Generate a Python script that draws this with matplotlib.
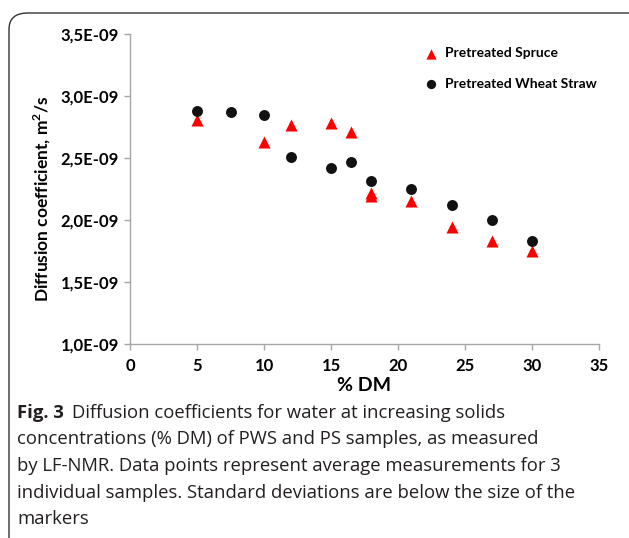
import matplotlib.pyplot as plt
from matplotlib.patches import FancyBboxPatch
from matplotlib.ticker import FuncFormatter

# === Data ===
dm_spruce = [5, 10, 12, 15, 16.5, 18, 18, 21, 24, 27, 30]
d_spruce = [2.81, 2.63, 2.77, 2.78, 2.71, 2.22, 2.19, 2.15, 1.94, 1.83, 1.75]

dm_straw = [5, 7.5, 10, 12, 15, 16.5, 18, 21, 24, 27, 30]
d_straw = [2.88, 2.87, 2.845, 2.505, 2.42, 2.47, 2.315, 2.25, 2.12, 2.0, 1.83]

y_ticks = [1.0, 1.5, 2.0, 2.5, 3.0, 3.5]
x_ticks = [0, 5, 10, 15, 20, 25, 30, 35]

caption_lines = [
    "concentrations (% DM) of PWS and PS samples, as measured",
    "by LF-NMR. Data points represent average measurements for 3",
    "individual samples. Standard deviations are below the size of the",
    "markers",
]

plt.rcParams['font.family'] = ['Lato', 'DejaVu Sans']
plt.rcParams['mathtext.fontset'] = 'custom'
plt.rcParams['mathtext.bf'] = 'Lato:bold'
cap_family = ['Open Sans', 'DejaVu Sans']

fig = plt.figure(figsize=(6.29, 5.38), dpi=100)

# rounded frame around the chart (right and bottom edges run off the image)
frame = FancyBboxPatch((9 / 629, -0.05), 1.1, 1 - 13 / 538 + 0.05,
                       boxstyle="round,pad=0,rounding_size=0.03",
                       transform=fig.transFigure, fill=False,
                       edgecolor='#333333', linewidth=1.0)
fig.patches.append(frame)

ax = fig.add_axes([130 / 629, 1 - 344 / 538, (599 - 130) / 629, (344 - 34) / 538])

ax.scatter(dm_spruce, [v * 1e-9 for v in d_spruce], marker='^', s=75,
           color='#ff0000', label='Pretreated Spruce', zorder=3, linewidths=0)
ax.scatter(dm_straw, [v * 1e-9 for v in d_straw], marker='o', s=62,
           color='#111111', label='Pretreated Wheat Straw', zorder=3, linewidths=0)

ax.set_xlim(0, 35)
ax.set_ylim(1.0e-9, 3.5e-9)
ax.set_xticks(x_ticks)
ax.set_yticks([v * 1e-9 for v in y_ticks])
ax.yaxis.set_major_formatter(FuncFormatter(
    lambda v, p: f"{v * 1e9:.1f}E-09".replace('.', ',')))

for side in ['top', 'right']:
    ax.spines[side].set_visible(False)
for side in ['left', 'bottom']:
    ax.spines[side].set_color('#a6a6a6')
    ax.spines[side].set_linewidth(1.0)
ax.tick_params(axis='both', color='#a6a6a6', length=4, width=1.0,
               labelsize=12, pad=4)
ax.tick_params(axis='x', pad=6)
for lab in ax.get_xticklabels() + ax.get_yticklabels():
    lab.set_fontweight('bold')

ax.set_xlabel('% DM', fontsize=14, fontweight='bold', labelpad=2)
ax.set_ylabel('Diffusion coefficient, m$^\\mathbf{2}$/s', fontsize=12.5,
              fontweight='bold')
ax.yaxis.set_label_coords(-0.165, 0.468)

ax.legend(loc='upper left', bbox_to_anchor=(0.6, 0.975), frameon=False,
          prop={'weight': 'bold', 'size': 10}, handletextpad=0.0,
          labelspacing=1.35, borderaxespad=0, scatterpoints=1,
          markerscale=0.85)

# caption
cap_size = 13.3
x0 = 17 / 629
y_first = 1 - 418 / 538
step = 26.5 / 538
t = fig.text(x0, y_first, "Fig. 3", fontsize=cap_size, fontweight='bold',
             family=cap_family, color='#231f20', va='baseline')
fig.canvas.draw()
bb = t.get_window_extent().transformed(fig.transFigure.inverted())
fig.text(bb.x1 + 8 / 629, y_first, "Diffusion coefficients for water at increasing solids",
         fontsize=cap_size, family=cap_family, color='#231f20', va='baseline')
for i, line in enumerate(caption_lines):
    fig.text(x0, y_first - (i + 1) * step, line, fontsize=cap_size,
             family=cap_family, color='#231f20', va='baseline')

fig.savefig('out.png', dpi=100)
